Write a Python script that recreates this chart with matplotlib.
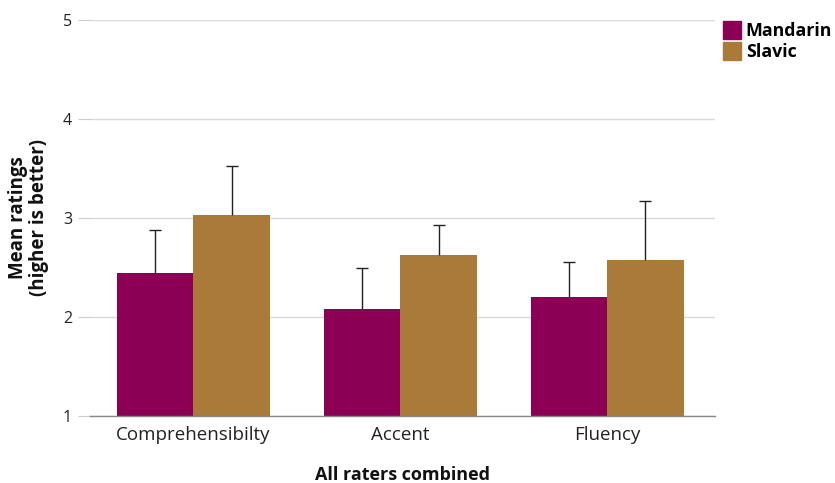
import matplotlib
matplotlib.use("Agg")
import matplotlib.pyplot as plt
import numpy as np
from matplotlib.lines import Line2D

categories = ["Comprehensibilty", "Accent", "Fluency"]
series_names = ["Mandarin", "Slavic"]
mandarin_means = [2.44, 2.08, 2.20]
mandarin_err = [0.44, 0.41, 0.36]
slavic_means = [3.03, 2.63, 2.58]
slavic_err = [0.50, 0.30, 0.59]
y_ticks = [1, 2, 3, 4, 5]

colors = ["#8B0055", "#A97A38"]

plt.rcParams["font.family"] = ["Open Sans", "DejaVu Sans"]

fig = plt.figure(figsize=(8.35, 4.83), dpi=100)
ax = fig.add_axes([90 / 835, 1 - 416 / 483, (715 - 90) / 835, (416 - 20) / 483])

x = np.arange(len(categories))
w = 0.368
means = [mandarin_means, slavic_means]
errs = [mandarin_err, slavic_err]
for i, (m, e) in enumerate(zip(means, errs)):
    pos = x + (i - 0.5) * w
    ax.bar(pos, np.array(m) - 1, bottom=1, width=w, color=colors[i], zorder=2)
    _, caps, _ = ax.errorbar(pos, m, yerr=[np.zeros(len(e)), e], fmt="none",
                             ecolor="#222222", elinewidth=1.0, capsize=4,
                             capthick=1.0, zorder=3)
    # only the upper whisker is shown
    caps[0].set_visible(False)

ax.set_xlim(-0.5, 2.52)
ax.set_ylim(1, 5)
ax.set_yticks(y_ticks)
ax.set_yticklabels([str(t) for t in y_ticks], fontsize=11.5, color="#222222")
ax.set_xticks(x)
ax.set_xticklabels(categories, fontsize=13.5, color="#222222")
ax.grid(axis="y", color="#d8d8d8", linewidth=1.0, zorder=0)
for s in ["top", "right", "left"]:
    ax.spines[s].set_visible(False)
ax.spines["bottom"].set_color("#888888")
ax.spines["bottom"].set_linewidth(1.0)
ax.spines["bottom"].set_zorder(4)
ax.tick_params(axis="y", length=9, color="#cccccc", pad=4)
ax.tick_params(axis="x", length=0, pad=7)

ax.set_xlabel("All raters combined", fontsize=13, fontweight="bold", labelpad=16, color="#111111")
ax.set_ylabel("Mean ratings\n(higher is better)", fontsize=13.5, fontweight="bold", labelpad=10,
              color="#111111", linespacing=1.05)

handles = [Line2D([], [], marker="s", linestyle="none", markersize=12.5, markerfacecolor=c,
                  markeredgecolor=c) for c in colors]
leg = fig.legend(handles, series_names, loc="upper left", bbox_to_anchor=(712 / 835, 1 - 15 / 483),
                 frameon=False, handletextpad=0.1, labelspacing=0.15, borderaxespad=0,
                 handlelength=1.4, prop={"size": 12.8, "weight": "bold"})

fig.savefig("out.png", dpi=100)
